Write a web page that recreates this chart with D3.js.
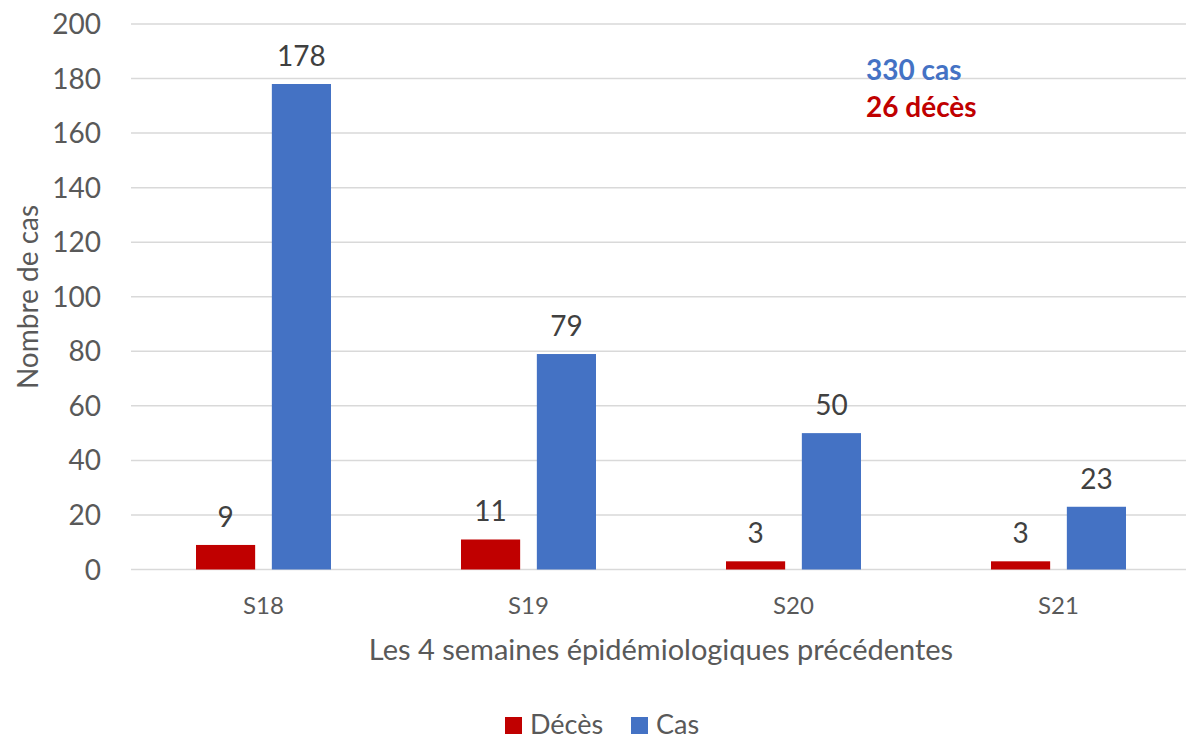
<!DOCTYPE html>
<html>
<head>
<meta charset="utf-8">
<script src="https://cdn.jsdelivr.net/npm/d3@7"></script>
<style>
  body { margin: 0; background: #fff; }
  svg text { font-family: Lato, "Open Sans", sans-serif; }
</style>
</head>
<body>
<div id="chart"></div>
<script>
const weeks = ["S18", "S19", "S20", "S21"];
const deces = [9, 11, 3, 3];
const cas = [178, 79, 50, 23];
const seriesNames = ["Décès", "Cas"];
const yTicks = [0, 20, 40, 60, 80, 100, 120, 140, 160, 180, 200];

const width = 1186,
    height = 740,
    margin = {top: 24, right: -5, bottom: 170, left: 131};

const colors = {"Décès": "#C00000", "Cas": "#4472C4"};

const svg = d3.select("#chart")
    .append("svg")
    .attr("width", width)
    .attr("height", height);

const x = d3.scaleBand()
    .domain(weeks)
    .range([margin.left, width - margin.right])
    .paddingInner(0)
    .paddingOuter(0);

const x1 = d3.scaleBand()
    .domain(seriesNames)
    .range([65, x.bandwidth() - 65])
    .paddingInner(0.22);

const y = d3.scaleLinear()
    .domain([0, 200])
    .range([height - margin.bottom - 0.5, margin.top]);

// Gridlines
svg.append("g")
    .selectAll("line")
    .data(yTicks)
    .enter()
    .append("line")
    .attr("x1", margin.left)
    .attr("x2", width)
    .attr("y1", d => y(d))
    .attr("y2", d => y(d))
    .style("stroke", "#D9D9D9")
    .style("stroke-width", 1.5);

// Y tick labels
svg.append("g")
    .selectAll("text")
    .data(yTicks)
    .enter()
    .append("text")
    .attr("x", 101)
    .attr("y", d => y(d))
    .attr("dy", "0.36em")
    .attr("text-anchor", "end")
    .style("font-size", "28px")
    .style("fill", "#595959")
    .text(d => d);

const rows = weeks.map((w, i) => ({week: w, values: [
    {name: "Décès", value: deces[i]},
    {name: "Cas", value: cas[i]}
]}));

const groups = svg.append("g")
    .selectAll("g")
    .data(rows)
    .enter()
    .append("g")
    .attr("transform", d => `translate(${x(d.week)},0)`);

groups.selectAll("rect")
    .data(d => d.values)
    .enter()
    .append("rect")
    .attr("x", d => x1(d.name))
    .attr("width", x1.bandwidth())
    .attr("y", d => y(d.value))
    .attr("height", d => y(0) - y(d.value))
    .style("fill", d => colors[d.name]);

groups.selectAll("text.value")
    .data(d => d.values)
    .enter()
    .append("text")
    .attr("class", "value")
    .attr("x", d => x1(d.name) + x1.bandwidth() / 2)
    .attr("y", d => y(d.value) - 18)
    .attr("text-anchor", "middle")
    .style("font-size", "28px")
    .style("fill", "#404040")
    .text(d => d.value);

// X category labels
svg.append("g")
    .selectAll("text")
    .data(weeks)
    .enter()
    .append("text")
    .attr("x", d => x(d) + x.bandwidth() / 2)
    .attr("y", 614)
    .attr("text-anchor", "middle")
    .style("font-size", "24px")
    .style("fill", "#595959")
    .text(d => d);

// Axis titles
svg.append("text")
    .attr("x", (margin.left + width - margin.right) / 2)
    .attr("y", 660)
    .attr("text-anchor", "middle")
    .style("font-size", "29px")
    .style("fill", "#595959")
    .text("Les 4 semaines épidémiologiques précédentes");

svg.append("text")
    .attr("transform", "translate(38,297) rotate(-90)")
    .attr("text-anchor", "middle")
    .style("font-size", "28px")
    .style("fill", "#595959")
    .text("Nombre de cas");

// Totals annotation
svg.append("text")
    .attr("x", 866)
    .attr("y", 80)
    .style("font-size", "28px")
    .style("font-weight", "bold")
    .style("fill", "#4472C4")
    .text("330 cas");

svg.append("text")
    .attr("x", 866)
    .attr("y", 117)
    .style("font-size", "28px")
    .style("font-weight", "bold")
    .style("fill", "#C00000")
    .text("26 décès");

// Legend
const legend = svg.append("g");
const legendX = [505, 631];
seriesNames.forEach((name, i) => {
    legend.append("rect")
        .attr("x", legendX[i])
        .attr("y", 717)
        .attr("width", 17)
        .attr("height", 17)
        .style("fill", colors[name]);
    legend.append("text")
        .attr("x", legendX[i] + 25)
        .attr("y", 734)
        .style("font-size", "27px")
        .style("fill", "#595959")
        .text(name);
});
</script>
</body>
</html>
